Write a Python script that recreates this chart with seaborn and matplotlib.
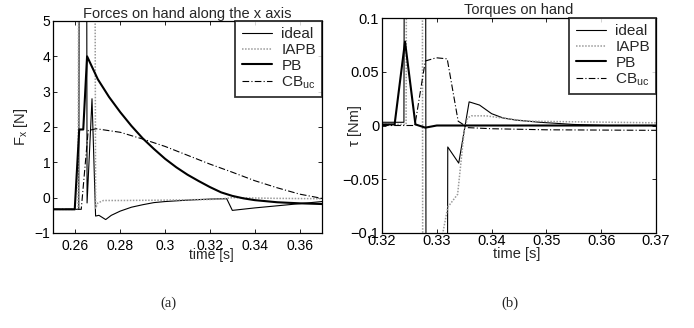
import numpy as np
import pandas as pd
import matplotlib
matplotlib.use("Agg")
import matplotlib.pyplot as plt
import seaborn as sns

# ---------------- data: panel (a) forces along x ----------------
ideal_a_t = [0.25, 0.2615, 0.2617, 0.2650, 0.2652, 0.2674, 0.2690, 0.2705, 0.2735, 0.2760,
             0.280, 0.285, 0.290, 0.295, 0.300, 0.310, 0.320, 0.3275, 0.3300, 0.340, 0.350, 0.360, 0.370]
ideal_a_v = [-0.33, -0.33, 8.0, 8.0, -0.15, 2.8, -0.52, -0.50, -0.62, -0.50,
             -0.38, -0.27, -0.20, -0.14, -0.11, -0.07, -0.04, -0.03, -0.36, -0.29, -0.23, -0.17, -0.11]

iapb_a_t = [0.25, 0.2612, 0.2615, 0.2687, 0.2690, 0.2700, 0.2725, 0.280, 0.300, 0.320, 0.3245, 0.330, 0.350, 0.370]
iapb_a_v = [-0.33, -0.33, 8.0, 8.0, -0.30, -0.15, -0.08, -0.08, -0.07, -0.05, -0.04, 0.0, -0.02, -0.03]

pb_a_t = [0.25, 0.2597, 0.2617, 0.2635, 0.2652, 0.270, 0.275, 0.280, 0.285, 0.290, 0.295, 0.300,
          0.305, 0.310, 0.315, 0.320, 0.325, 0.330, 0.335, 0.340, 0.350, 0.360, 0.370]
pb_a_v = [-0.33, -0.33, 1.93, 1.93, 4.0, 3.35, 2.85, 2.42, 2.03, 1.68, 1.38, 1.10,
          0.86, 0.65, 0.47, 0.30, 0.15, 0.05, -0.02, -0.07, -0.13, -0.16, -0.18]

cb_a_t = [0.25, 0.2626, 0.2657, 0.2693, 0.280, 0.290, 0.300, 0.310, 0.320, 0.330, 0.340, 0.350, 0.360, 0.370]
cb_a_v = [-0.33, -0.33, 1.90, 1.95, 1.85, 1.66, 1.45, 1.20, 0.95, 0.72, 0.48, 0.28, 0.10, -0.02]

# ---------------- data: panel (b) torques ----------------
ideal_b_t = [0.32, 0.3240, 0.3242, 0.3279, 0.3281, 0.3318, 0.3320, 0.3340, 0.3359, 0.3378,
             0.3400, 0.3421, 0.3445, 0.3488, 0.3549, 0.3610, 0.370]
ideal_b_v = [0.003, 0.003, 0.5, 0.5, -0.5, -0.5, -0.020, -0.035, 0.022, 0.019,
             0.011, 0.007, 0.005, 0.003, 0.001, 0.0, 0.0]

iapb_b_t = [0.32, 0.3244, 0.3246, 0.3273, 0.3275, 0.3311, 0.3320, 0.3338, 0.3350, 0.3356,
            0.3363, 0.3390, 0.3463, 0.370]
iapb_b_v = [0.001, 0.001, 0.5, 0.5, -0.5, -0.1, -0.076, -0.064, -0.005, 0.007,
            0.009, 0.009, 0.004, 0.0025]

pb_b_t = [0.32, 0.3223, 0.3242, 0.3261, 0.3279, 0.3300, 0.3400, 0.370]
pb_b_v = [0.001, 0.001, 0.078, 0.001, -0.002, 0.0, 0.0, 0.0]

cb_b_t = [0.32, 0.3260, 0.3279, 0.3299, 0.3319, 0.3339, 0.3357, 0.3400, 0.3500, 0.370]
cb_b_v = [0.0, 0.0, 0.060, 0.063, 0.062, 0.004, -0.002, -0.003, -0.004, -0.0045]

series_names = ["ideal", "IAPB", "PB", r"CB$_{\mathrm{uc}}$"]

a_xticks = [0.26, 0.28, 0.30, 0.32, 0.34, 0.36]
a_xticklabels = ["0.26", "0.28", "0.3", "0.32", "0.34", "0.36"]
a_yticks = [-1, 0, 1, 2, 3, 4, 5]
a_yticklabels = ["\u22121", "0", "1", "2", "3", "4", "5"]
b_xticks = [0.32, 0.33, 0.34, 0.35, 0.36, 0.37]
b_xticklabels = ["0.32", "0.33", "0.34", "0.35", "0.36", "0.37"]
b_yticks = [-0.1, -0.05, 0, 0.05, 0.1]
b_yticklabels = ["\u22120.1", "\u22120.05", "0", "0.05", "0.1"]

# ---------------- style ----------------
sns.set_style("white")
plt.rcParams["font.family"] = ["Liberation Sans", "DejaVu Sans"]
plt.rcParams["mathtext.fontset"] = "custom"
plt.rcParams["mathtext.rm"] = "Liberation Sans"
plt.rcParams["mathtext.it"] = "Liberation Sans"
plt.rcParams["mathtext.default"] = "regular"
plt.rcParams.update({
    "xtick.direction": "in", "ytick.direction": "in",
    "xtick.top": True, "ytick.right": True,
    "xtick.bottom": True, "ytick.left": True,
    "xtick.major.size": 3, "ytick.major.size": 3,
    "xtick.major.width": 0.6, "ytick.major.width": 0.6,
    "axes.linewidth": 0.9, "axes.edgecolor": "black",
    "xtick.color": "black", "ytick.color": "black",
})

styles = [
    dict(color="black", linewidth=0.8, linestyle="-"),
    dict(color="#9a9a9a", linewidth=1.1, linestyle=(0, (1, 1))),
    dict(color="black", linewidth=1.5, linestyle="-"),
    dict(color="black", linewidth=0.8, linestyle=(0, (6, 2, 1, 2))),
]

fig = plt.figure(figsize=(6.94, 3.28), dpi=100)
ax1 = fig.add_axes([53 / 694, 1 - 233 / 328, 269 / 694, 212 / 328])
ax2 = fig.add_axes([382 / 694, 1 - 233 / 328, 274 / 694, 215 / 328])

panel_a = [(ideal_a_t, ideal_a_v), (iapb_a_t, iapb_a_v), (pb_a_t, pb_a_v), (cb_a_t, cb_a_v)]
panel_b = [(ideal_b_t, ideal_b_v), (iapb_b_t, iapb_b_v), (pb_b_t, pb_b_v), (cb_b_t, cb_b_v)]

for ax, panel in ((ax1, panel_a), (ax2, panel_b)):
    for (t, v), name, st in zip(panel, series_names, styles):
        df = pd.DataFrame({"t": t, "v": v})
        sns.lineplot(data=df, x="t", y="v", ax=ax, sort=False, estimator=None,
                     label=name, **st)

# panel a
ax1.set_xlim(0.25, 0.37)
ax1.set_ylim(-1, 5)
ax1.set_xticks(a_xticks)
ax1.set_xticklabels(a_xticklabels)
ax1.set_yticks(a_yticks)
ax1.set_yticklabels(a_yticklabels)
ax1.tick_params(axis="x", labelsize=10, pad=4)
ax1.tick_params(axis="y", labelsize=10, pad=2)
ax1.set_title("Forces on hand along the x axis", fontsize=10.5, pad=2)
ax1.set_ylabel(r"F$_x$ [N]", fontsize=10.5)
ax1.yaxis.label.set_va("center")
ax1.yaxis.set_label_coords((21 - 53) / 269, 0.5)
ax1.set_xlabel("time [s]", fontsize=10)
ax1.xaxis.set_label_coords((211 - 53) / 269, (233 - 248) / 212)

# panel b
ax2.set_xlim(0.32, 0.37)
ax2.set_ylim(-0.1, 0.1)
ax2.set_xticks(b_xticks)
ax2.set_xticklabels(b_xticklabels)
ax2.set_yticks(b_yticks)
ax2.set_yticklabels(b_yticklabels)
ax2.tick_params(axis="x", labelsize=10.5, pad=1)
ax2.tick_params(axis="y", labelsize=10.5, pad=2)
ax2.set_title("Torques on hand", fontsize=10.5, pad=3)
ax2.set_ylabel("\u03c4 [Nm]", fontsize=10.5)
ax2.yaxis.label.set_va("center")
ax2.yaxis.set_label_coords((355 - 382) / 274, 0.5)
ax2.set_xlabel("time [s]", fontsize=10.5)
ax2.xaxis.set_label_coords((517 - 382) / 274, (233 - 247) / 215)

for ax in (ax1, ax2):
    leg = ax.legend(loc="upper right", fontsize=11, frameon=True, fancybox=False,
                    borderaxespad=0, handlelength=2.0, handletextpad=0.6,
                    borderpad=0.4, labelspacing=0.12)
    leg.get_frame().set_edgecolor("black")
    leg.get_frame().set_linewidth(1.3)
    for sp in ax.spines.values():
        sp.set_visible(True)

fig.text(168 / 694, 1 - 303 / 328, "(a)", fontsize=10.5, family="Liberation Serif",
         ha="center", va="center")
fig.text(510 / 694, 1 - 303 / 328, "(b)", fontsize=10.5, family="Liberation Serif",
         ha="center", va="center")

fig.savefig("out.png", dpi=100)
